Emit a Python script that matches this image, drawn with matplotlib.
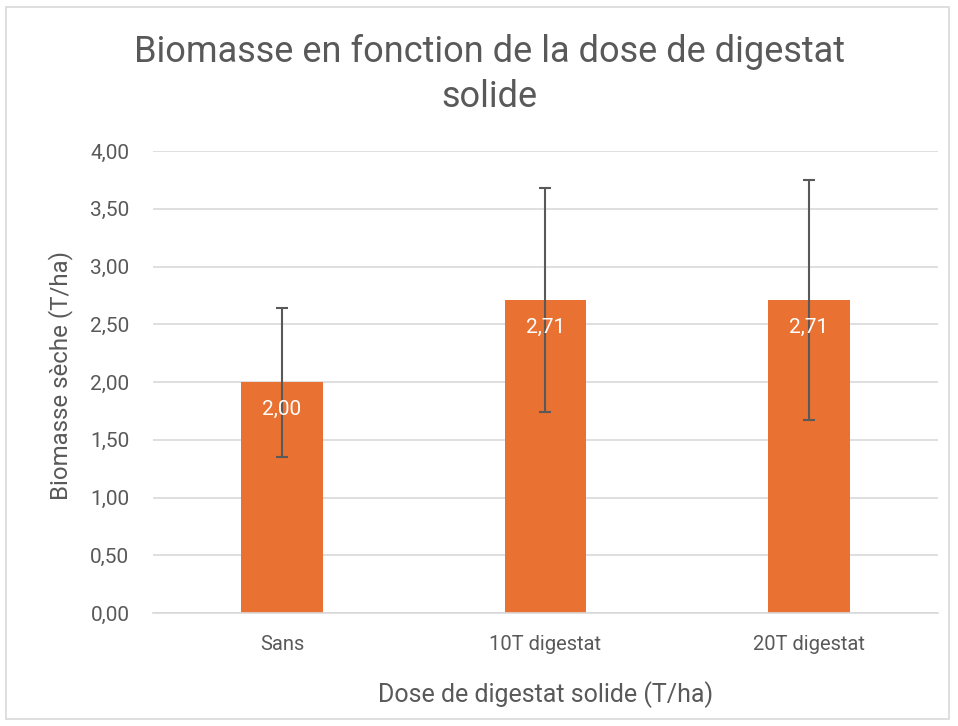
import matplotlib.pyplot as plt
from matplotlib.patches import Rectangle
import numpy as np

plt.rcParams['font.family'] = ['Roboto', 'DejaVu Sans']

categories = ['Sans', '10T digestat', '20T digestat']
biomasse = [2.00, 2.71, 2.71]
erreur = [0.645, 0.97, 1.04]
yticks = [0, 0.5, 1.0, 1.5, 2.0, 2.5, 3.0, 3.5, 4.0]

txt = '#595959'
orange = '#E97132'

fig = plt.figure(figsize=(9.58, 7.26), dpi=100)
fig.patches.append(Rectangle((0.006, 0.01), 0.985, 0.98, transform=fig.transFigure,
                             fill=False, edgecolor='#D9D9D9', lw=1.2))
ax = fig.add_axes([0.1597, 0.1556, 0.8193, 0.6364])

x = np.arange(len(categories))
ax.bar(x, biomasse, width=0.31, color=orange, zorder=2)
ax.errorbar(x, biomasse, yerr=erreur, fmt='none', ecolor='#595959',
            elinewidth=1.5, capsize=4.5, capthick=1.5, zorder=3)

for xi, v in zip(x, biomasse):
    ax.annotate(f'{v:.2f}'.replace('.', ','), (xi, v), xytext=(0, -20),
                textcoords='offset points', ha='center', va='center',
                color='white', fontsize=15)

ax.set_xlim(-0.49, 2.49)
ax.set_ylim(0, 4.0)
ax.set_yticks(yticks)
ax.set_yticklabels([f'{t:.2f}'.replace('.', ',') for t in yticks])
ax.set_xticks(x)
ax.set_xticklabels(categories)
ax.yaxis.grid(True, color='#D9D9D9', lw=1.2, zorder=0)
ax.set_axisbelow(True)
for s in ['top', 'right', 'left']:
    ax.spines[s].set_visible(False)
ax.spines['bottom'].set_color('#D9D9D9')
ax.spines['bottom'].set_linewidth(1.2)
ax.tick_params(axis='y', length=0, labelsize=15, colors=txt, pad=17)
ax.tick_params(axis='x', length=0, labelsize=14.5, colors=txt, pad=16)

ax.set_xlabel('Dose de digestat solide (T/ha)', fontsize=18, color=txt, va='top')
ax.xaxis.set_label_coords(0.5, -0.148)
ax.set_ylabel('Biomasse sèche (T/ha)', fontsize=17.3, color=txt)
ax.yaxis.set_label_coords(-0.102, 0.515)

fig.text(489 / 958, 1 - 62 / 726, 'Biomasse en fonction de la dose de digestat',
         ha='center', va='baseline', fontsize=26, color=txt)
fig.text(489 / 958, 1 - 107 / 726, 'solide',
         ha='center', va='baseline', fontsize=26, color=txt)

plt.savefig('out.png', dpi=100)
